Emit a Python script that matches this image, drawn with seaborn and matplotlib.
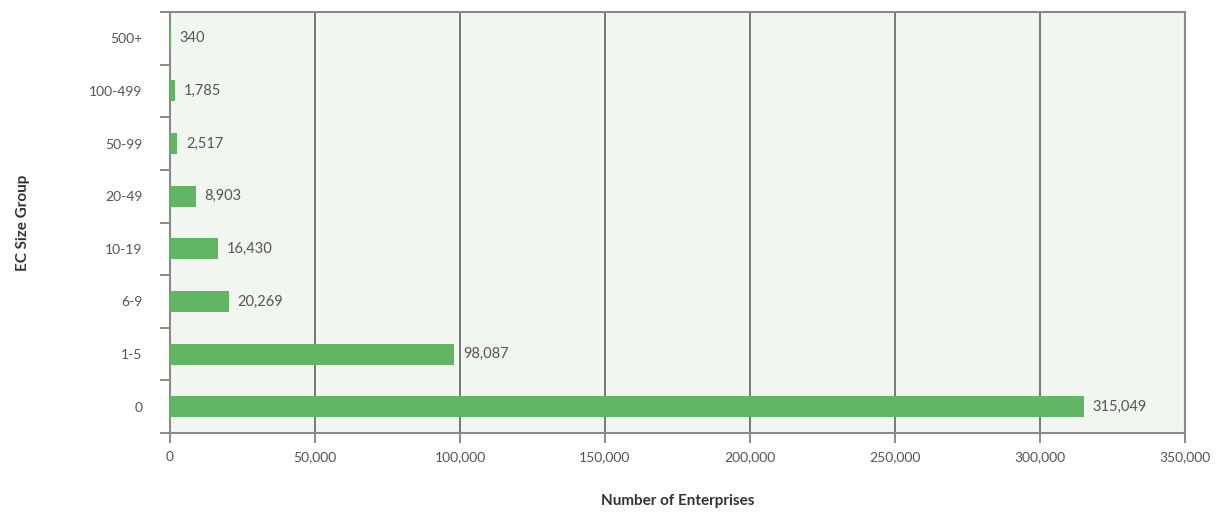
import matplotlib
matplotlib.use("Agg")
import matplotlib.pyplot as plt
import seaborn as sns
import pandas as pd
import numpy as np
from matplotlib.ticker import FixedLocator, FuncFormatter

groups = ["500+", "100-499", "50-99", "20-49", "10-19", "6-9", "1-5", "0"]
counts = [340, 1785, 2517, 8903, 16430, 20269, 98087, 315049]
xticks = [0, 50000, 100000, 150000, 200000, 250000, 300000, 350000]

df = pd.DataFrame({"group": groups, "count": counts})

sns.set_style("white")
plt.rcParams["font.family"] = ["Lato", "DejaVu Sans"]

fig = plt.figure(figsize=(12.18, 5.12), dpi=100)
ax = fig.add_axes([170/1218, 1-433/512, (1185-170)/1218, (433-12)/512])
ax.set_facecolor("#f2f6f0")

sns.barplot(data=df, y="group", x="count", order=groups, orient="h",
            color="#62b562", saturation=1, width=0.4, linewidth=0, ax=ax, zorder=3)

ax.set_xlim(0, 350000)
ax.set_ylim(7.5, -0.5)
ax.xaxis.set_major_locator(FixedLocator(xticks))
ax.xaxis.set_major_formatter(FuncFormatter(lambda v, p: f"{int(v):,}"))
ax.grid(axis="x", color="#6e6e6e", linewidth=1.3, zorder=1)
ax.set_axisbelow(True)

# category boundary ticks on y axis
ax.yaxis.set_minor_locator(FixedLocator(np.arange(-0.5, 8, 1.0)))
ax.tick_params(axis="y", which="major", left=False, length=0, pad=20, labelsize=10, labelcolor="#555555")
ax.tick_params(axis="y", which="minor", left=True, length=7.2, width=1.2, color="#777777")
ax.tick_params(axis="x", which="major", bottom=True, length=7.2, width=1.2, color="#777777",
               labelsize=10, labelcolor="#555555", pad=6)

for s in ax.spines.values():
    s.set_color("#8a8a8a")
    s.set_linewidth(1.5)

for i, v in enumerate(counts):
    ax.text(v + 3000, i, f"{v:,}", va="center", ha="left", fontsize=10.5,
            color="#555555", zorder=4)

ax.set_ylabel("EC Size Group", fontsize=11, fontweight="bold", color="#333333")
ax.yaxis.set_label_coords(-140/1015, 0.5)
ax.set_xlabel("Number of Enterprises", fontsize=11, fontweight="bold", color="#333333", labelpad=22)

fig.savefig("out.png", dpi=100)
